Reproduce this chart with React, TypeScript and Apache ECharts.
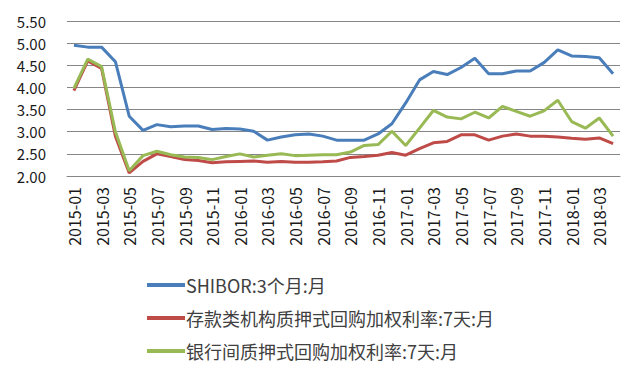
import React, { useEffect, useRef } from "react";
import * as echarts from "echarts";

const months: string[] = [
  "2015-01","2015-02","2015-03","2015-04","2015-05","2015-06","2015-07","2015-08","2015-09","2015-10","2015-11","2015-12",
  "2016-01","2016-02","2016-03","2016-04","2016-05","2016-06","2016-07","2016-08","2016-09","2016-10","2016-11","2016-12",
  "2017-01","2017-02","2017-03","2017-04","2017-05","2017-06","2017-07","2017-08","2017-09","2017-10","2017-11","2017-12",
  "2018-01","2018-02","2018-03","2018-04",
];

const shibor: number[] = [
  4.95, 4.91, 4.91, 4.58, 3.35, 3.03, 3.16, 3.11, 3.13, 3.13, 3.05, 3.07,
  3.06, 3.01, 2.81, 2.88, 2.93, 2.95, 2.90, 2.81, 2.81, 2.81, 2.95, 3.18,
  3.65, 4.17, 4.36, 4.29, 4.45, 4.66, 4.31, 4.31, 4.37, 4.37, 4.56, 4.85,
  4.71, 4.70, 4.67, 4.31,
];

const depositRepo: number[] = [
  3.93, 4.60, 4.43, 2.90, 2.07, 2.33, 2.50, 2.44, 2.37, 2.35, 2.30, 2.32,
  2.33, 2.34, 2.31, 2.33, 2.31, 2.31, 2.32, 2.34, 2.42, 2.44, 2.47, 2.53,
  2.47, 2.62, 2.75, 2.78, 2.93, 2.93, 2.81, 2.90, 2.95, 2.90, 2.90, 2.88,
  2.85, 2.83, 2.86, 2.73,
];

const interbankRepo: number[] = [
  3.98, 4.64, 4.47, 3.00, 2.12, 2.46, 2.56, 2.48, 2.43, 2.42, 2.37, 2.44,
  2.50, 2.43, 2.47, 2.50, 2.46, 2.47, 2.48, 2.48, 2.54, 2.69, 2.71, 3.01,
  2.69, 3.08, 3.48, 3.33, 3.29, 3.44, 3.31, 3.57, 3.46, 3.35, 3.47, 3.71,
  3.23, 3.08, 3.31, 2.90,
];

const seriesNames: string[] = [
  "SHIBOR:3个月:月",
  "存款类机构质押式回购加权利率:7天:月",
  "银行间质押式回购加权利率:7天:月",
];

const colors: string[] = ["#4A7EBB", "#BE4B48", "#98B954"];

export default function App() {
  const ref = useRef<HTMLDivElement>(null);
  useEffect(() => {
    if (!ref.current) return;
    const chart = echarts.init(ref.current, null, { renderer: "svg" });
    const font = "'Noto Sans CJK SC', 'Noto Sans', sans-serif";
    const data = [shibor, depositRepo, interbankRepo];
    chart.setOption({
      animation: false,
      backgroundColor: "#ffffff",
      color: colors,
      grid: { left: 67, right: 20, top: 21, bottom: 199, containLabel: false },
      legend: {
        orient: "vertical",
        left: 142,
        top: 271,
        itemWidth: 38,
        itemHeight: 4,
        itemGap: 15,
        icon: "rect",
        textStyle: { fontSize: 18, color: "#404040", fontFamily: font, padding: [0, 0, 0, -4] },
        data: seriesNames,
      },
      xAxis: {
        type: "category",
        data: months,
        boundaryGap: true,
        axisLine: { show: true, lineStyle: { color: "#868686", width: 1 } },
        axisTick: { show: false },
        axisLabel: {
          interval: 1,
          rotate: 90,
          margin: 11,
          fontSize: 16,
          color: "#1a1a1a",
          fontFamily: font,
        },
      },
      yAxis: {
        type: "value",
        min: 2,
        max: 5.5,
        interval: 0.5,
        axisLine: { show: false },
        axisTick: { show: false },
        splitLine: { show: true, lineStyle: { color: "#868686", width: 1 } },
        axisLabel: {
          margin: 21,
          fontSize: 15,
          color: "#1a1a1a",
          fontFamily: font,
          formatter: (v: number) => v.toFixed(2),
        },
      },
      series: seriesNames.map((name, i) => ({
        name,
        type: "line",
        data: data[i],
        showSymbol: false,
        symbol: "none",
        lineStyle: { width: 3, color: colors[i] },
        itemStyle: { color: colors[i] },
        z: 2 + i,
      })),
    });
    return () => chart.dispose();
  }, []);
  return (
    <div
      ref={ref}
      style={{ position: "absolute", left: 0, top: 0, width: 640, height: 375 }}
    />
  );
}
